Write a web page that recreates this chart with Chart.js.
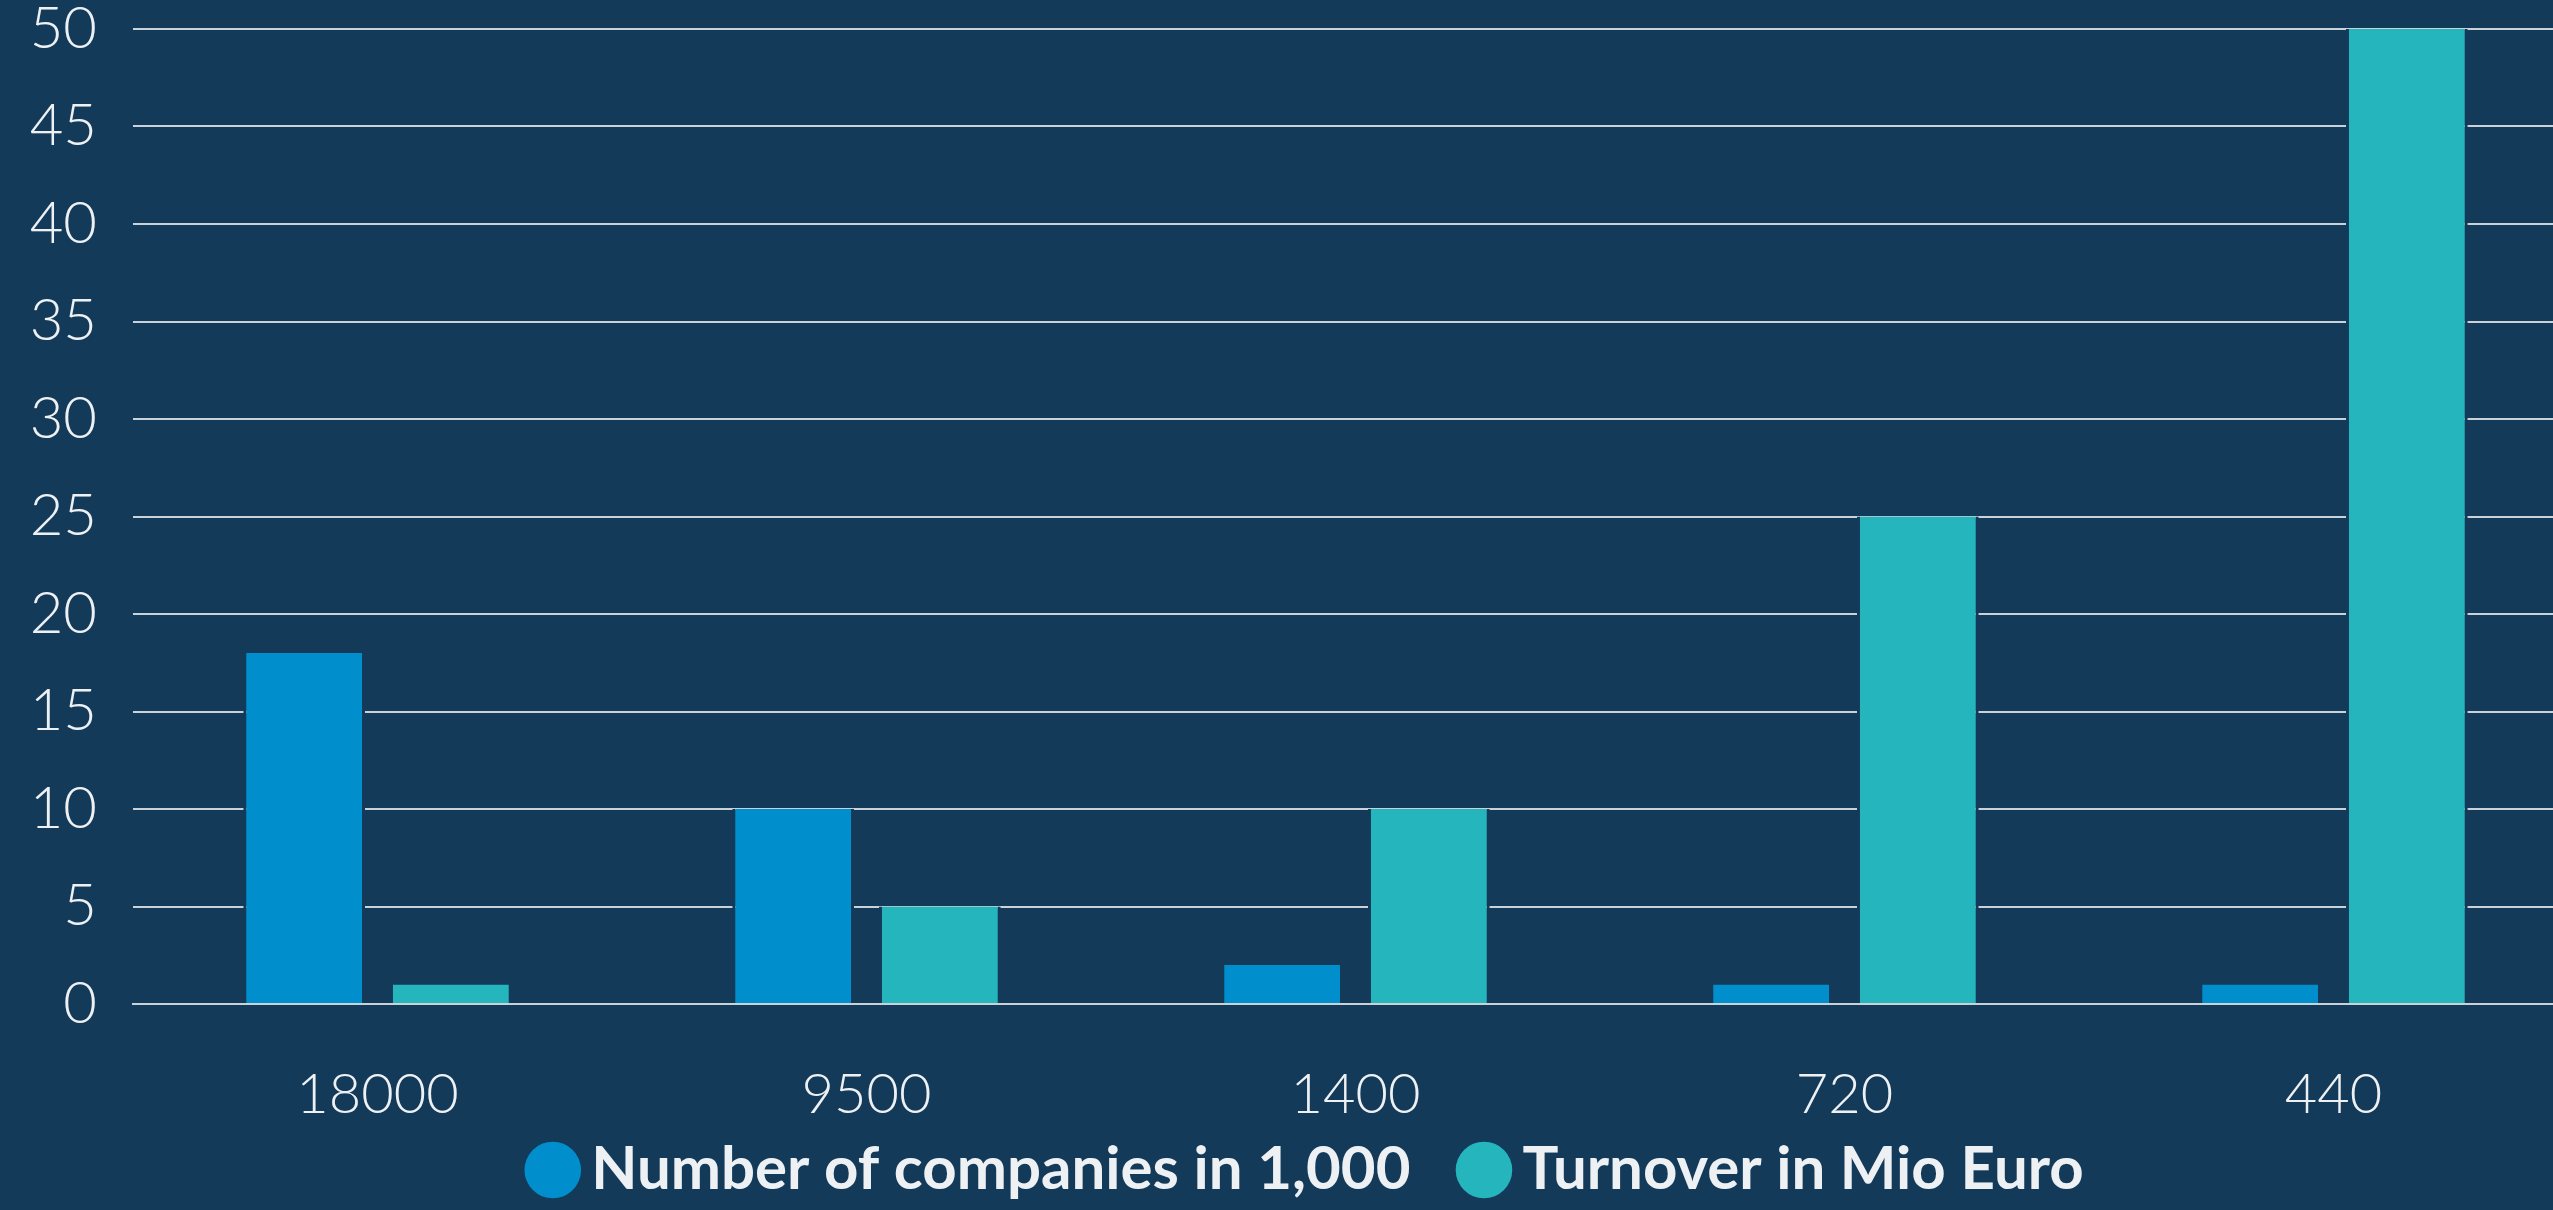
<!DOCTYPE html>
<html>
<head>
<meta charset="utf-8">
<script src="https://cdn.jsdelivr.net/npm/chart.js@4"></script>
<style>
  html, body { margin: 0; padding: 0; background: #143a5a; overflow: hidden; }
  #wrap { width: 2578px; height: 1210px; position: relative; }
</style>
</head>
<body>
<div id="wrap"><canvas id="c"></canvas></div>
<script>
const categories = ['18000', '9500', '1400', '720', '440'];
const companies = [18, 10, 2, 1, 1];
const turnover = [1, 5, 10, 25, 50];
const seriesNames = ['Number of companies in 1,000', 'Turnover in Mio Euro'];
const yTicks = [0, 5, 10, 15, 20, 25, 30, 35, 40, 45, 50];

const BG = '#143a5a';
const GRID = '#c9d1d9';
const TEXT = '#eef1f4';

const legendShift = {
  id: 'legendShift',
  afterLayout(chart) {
    const l = chart.legend;
    if (l) { l.left += 11; l.right += 11; }
  }
};

new Chart(document.getElementById('c'), {
  type: 'bar',
  data: {
    labels: categories,
    datasets: [
      { label: seriesNames[0], data: companies, backgroundColor: '#008fcc',
        borderColor: BG, borderWidth: {left: 3, right: 3, top: 0, bottom: 0} },
      { label: seriesNames[1], data: turnover, backgroundColor: '#25b5bd',
        borderColor: BG, borderWidth: {left: 3, right: 3, top: 0, bottom: 0} }
    ]
  },
  plugins: [legendShift],
  options: {
    responsive: true,
    maintainAspectRatio: false,
    animation: false,
    layout: { padding: { top: 29, bottom: 0, left: 28, right: 0 } },
    datasets: { bar: { categoryPercentage: 0.6, barPercentage: 0.83 } },
    scales: {
      x: {
        z: 1,
        grid: { display: false, drawTicks: false },
        border: { display: true, color: GRID, width: 2 },
        ticks: { color: TEXT, padding: 57, font: { family: 'Lato', size: 56, weight: 300 } },
        afterFit: (s) => { s.height = 131; }
      },
      y: {
        min: 0, max: 50,
        afterBuildTicks: (s) => { s.ticks = yTicks.map(v => ({ value: v })); },
        grid: { color: GRID, lineWidth: 2, drawTicks: false },
        border: { display: false },
        ticks: { color: TEXT, padding: 36, font: { family: 'Lato', size: 58, weight: 300 } },
        afterFit: (s) => { s.width = 105; s.paddingTop = 0; s.paddingBottom = 0; }
      }
    },
    plugins: {
      tooltip: { enabled: false },
      legend: {
        position: 'bottom',
        labels: {
          color: TEXT,
          usePointStyle: true,
          pointStyle: 'circle',
          boxHeight: 40,
          boxWidth: 17,
          padding: 5,
          font: { family: 'Lato', size: 60, weight: 'bold' },
          generateLabels: (chart) => chart.data.datasets.map((d, i) => ({
            text: i === 0 ? d.label + '\u2003\u2005' : d.label,
            fillStyle: d.backgroundColor,
            strokeStyle: d.backgroundColor,
            lineWidth: 0,
            pointStyle: 'circle',
            fontColor: TEXT,
            hidden: false,
            datasetIndex: i
          }))
        }
      }
    }
  }
});
</script>
</body>
</html>
